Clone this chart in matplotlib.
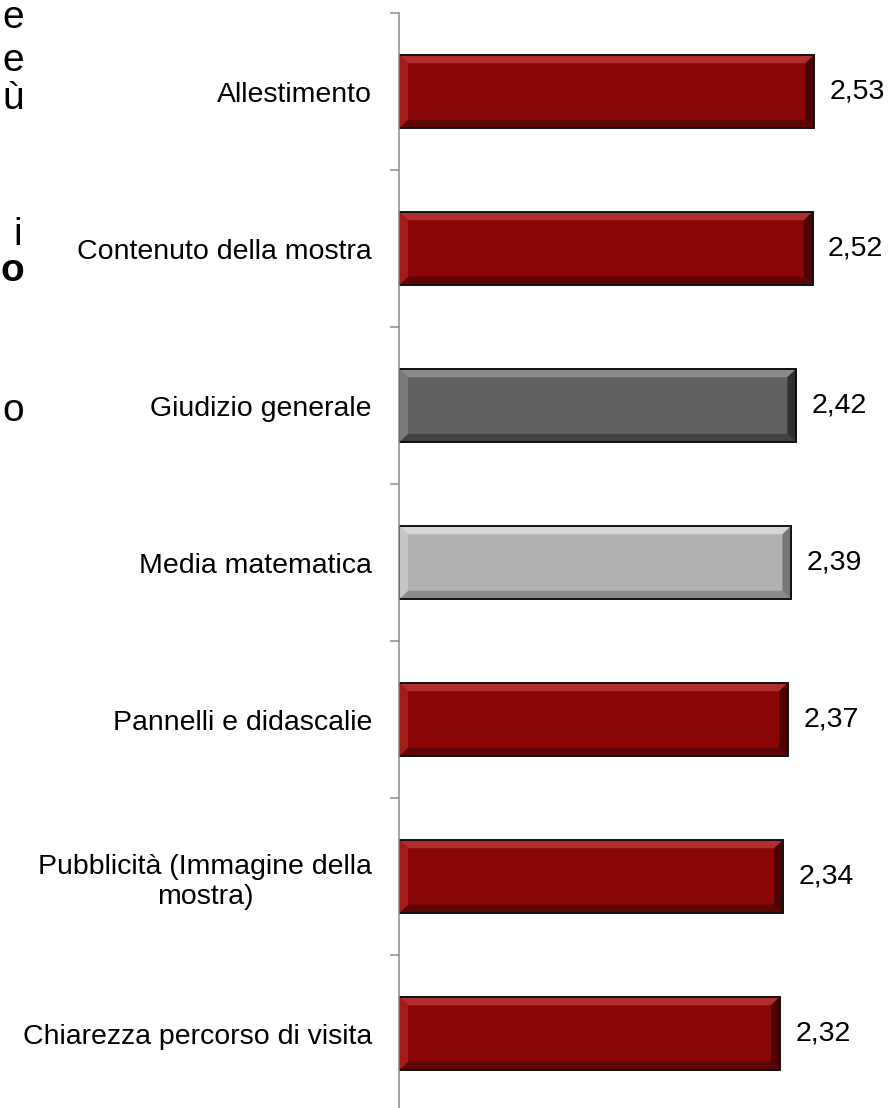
import matplotlib.pyplot as plt
import numpy as np

plt.rcParams['font.family'] = ['Liberation Sans', 'DejaVu Sans']

categories = ["Allestimento", "Contenuto della mostra", "Giudizio generale",
              "Media matematica", "Pannelli e didascalie",
              "Pubblicità (Immagine della\nmostra)", "Chiarezza percorso di visita"]
values = [2.53, 2.52, 2.42, 2.39, 2.37, 2.34, 2.32]
labels = ["2,53", "2,52", "2,42", "2,39", "2,37", "2,34", "2,32"]
kinds = ["red", "red", "dark", "light", "red", "red", "red"]

# base, top, left, right, bottom
palette = {
    "red": ("#8a0606", "#b12d2d", "#a31b1b", "#4c0202", "#5e0505"),
    "dark": ("#616161", "#8b8b8b", "#7a7a7a", "#303030", "#414141"),
    "light": ("#b1b1b1", "#d6d6d6", "#c6c6c6", "#767676", "#8b8b8b"),
}

fig = plt.figure(figsize=(8.9, 11.08), dpi=100)
ax = fig.add_axes([399 / 890, -4 / 1108, 491 / 890, 1099 / 1108])

y = np.arange(len(categories))
h = 0.47
by = 0.055   # bevel in y units
bx = 0.055   # bevel in x units

for yi, v, k in zip(y, values, kinds):
    base, ctop, cleft, cright, cbot = palette[k]
    top, bot = yi - h / 2, yi + h / 2
    ax.barh(yi, v, height=h, color=base, edgecolor="none", zorder=2)
    # bevel faces
    ax.fill([0, v, v - bx, bx], [top, top, top + by, top + by], color=ctop, lw=0, zorder=3)
    ax.fill([0, v, v - bx, bx], [bot, bot, bot - by, bot - by], color=cbot, lw=0, zorder=3)
    ax.fill([v, v, v - bx, v - bx], [top, bot, bot - by, top + by], color=cright, lw=0, zorder=3)
    ax.fill([0, 0, bx, bx], [top, bot, bot - by, top + by], color=cleft, lw=0, zorder=3)
    ax.barh(yi, v, height=h, color="none", edgecolor="#111111", linewidth=1.4, zorder=4)

for yi, v, lab in zip(y, values, labels):
    ax.annotate(lab, (v, yi), xytext=(11, 0), textcoords="offset points",
                ha="left", va="center", fontsize=20.5, color="black")

ax.set_xlim(0, 2.99)
ax.set_ylim(len(categories) - 0.5, -0.5)

ax.set_yticks(y)
ax.set_yticklabels(categories, fontsize=20.5)
for t in ax.get_yticklabels():
    t.set_multialignment("center")
ax.set_yticks(np.arange(len(categories) + 1) - 0.5, minor=True)
ax.tick_params(axis="y", which="major", length=0, pad=19.5)
ax.tick_params(axis="y", which="minor", length=6.5, width=1.1, color="#8c8c8c")
ax.set_xticks([])

for s in ["top", "right", "bottom"]:
    ax.spines[s].set_visible(False)
ax.spines["left"].set_color("#8c8c8c")
ax.spines["left"].set_linewidth(1.1)
ax.spines["left"].set_zorder(5)

# visible ends of a neighbouring text box on the left edge
fx = 24 / 890
fs = 28
fig.text(fx, 1 - 28 / 1108, "e", ha="right", va="baseline", fontsize=fs)
fig.text(fx, 1 - 71 / 1108, "e", ha="right", va="baseline", fontsize=fs)
fig.text(fx, 1 - 109 / 1108, "ù", ha="right", va="baseline", fontsize=fs)
fig.text(fx - 2 / 890, 1 - 245 / 1108, "i", ha="right", va="baseline", fontsize=fs)
fig.text(fx, 1 - 281 / 1108, "o", ha="right", va="baseline", fontsize=fs, fontweight="bold")
fig.text(fx, 1 - 421 / 1108, "o", ha="right", va="baseline", fontsize=fs)

fig.savefig("out.png", dpi=100)
